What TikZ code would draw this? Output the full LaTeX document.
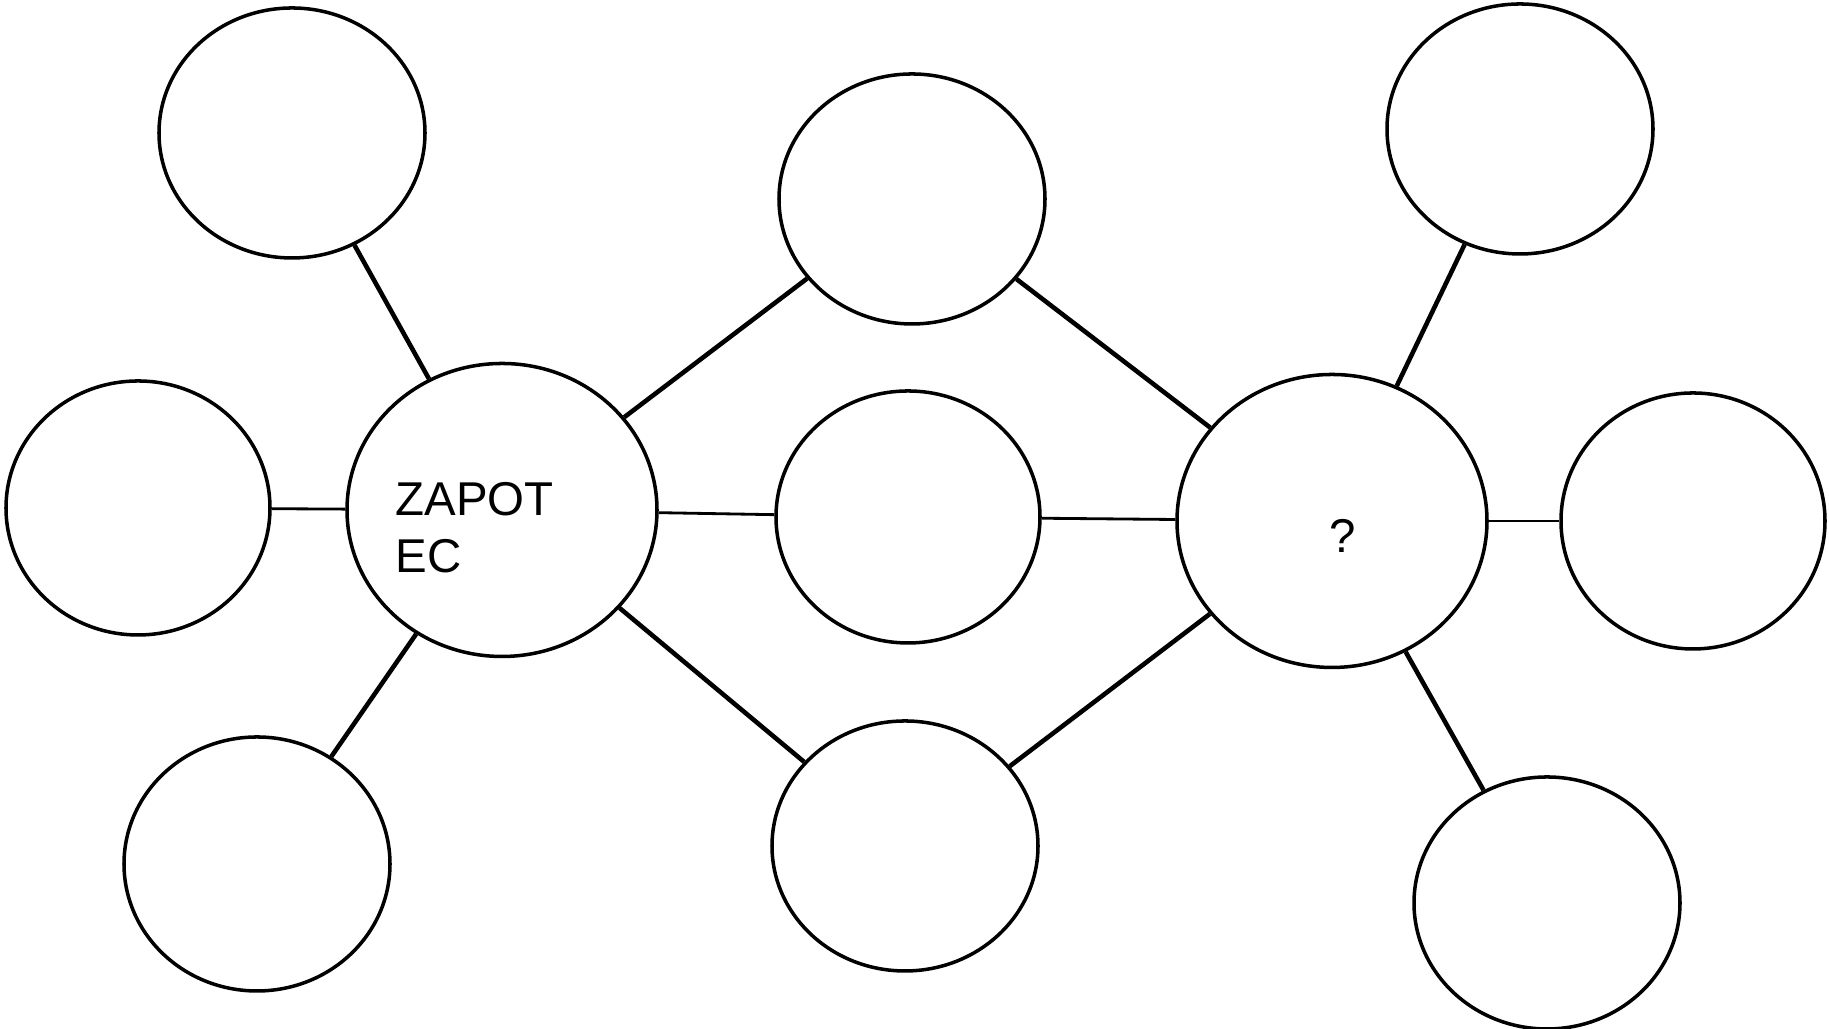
\documentclass[tikz,border=0pt]{standalone}
\usepackage{fontspec}
\setmainfont{Liberation Sans}
\usetikzlibrary{shapes.geometric}

\begin{document}
\begin{tikzpicture}
\tikzstyle{n} = [ellipse,draw,line width=1pt,inner sep=0mm,minimum width=2.66cm,minimum height=2.5cm]
\tikzstyle{b} = [n,minimum width=3.1cm,minimum height=2.93cm]
\tikzstyle{t} = [inner sep=0mm,font=\fontsize{13.5}{16.1}\selectfont]
\tikzstyle{a} = [line width=1.3pt]
\tikzstyle{h} = [line width=0.8pt]
\useasboundingbox (0,0) rectangle (18.29,10.29);
% left group
\node[n] (tl) at (2.92,8.96) {};
\node[n,minimum width=2.64cm,minimum height=2.54cm] (l) at (1.38,5.21) {};
\node[n,minimum height=2.54cm] (bl) at (2.57,1.65) {};
\node[b] (z) at (5.02,5.19) {};
% middle
\node[n] (tm) at (9.12,8.30) {};
\node[n,minimum width=2.64cm,minimum height=2.52cm] (m) at (9.08,5.12) {};
\node[n] (bm) at (9.05,1.83) {};
% right group
\node[b] (q) at (13.32,5.08) {};
\node[n] (tr) at (15.20,9.00) {};
\node[n,minimum width=2.64cm,minimum height=2.56cm] (r) at (16.93,5.08) {};
\node[n,minimum height=2.52cm] (br) at (15.47,1.26) {};
% labels
\node[t,anchor=north west,align=left] (zlab) at (3.95,5.47) {ZAPOT\\EC};
\node[t,anchor=base] (qlab) at (13.43,4.76) {?};
\path[a]
(z) edge (tl)
(z) edge (bl)
(z) edge (tm)
(z) edge (bm)
(q) edge (tm)
(q) edge (bm)
(q) edge (tr)
(q) edge (br);
\path[h]
(l) edge (z)
(z) edge (m)
(m) edge (q)
(q) edge (r);
\end{tikzpicture}
\end{document}
